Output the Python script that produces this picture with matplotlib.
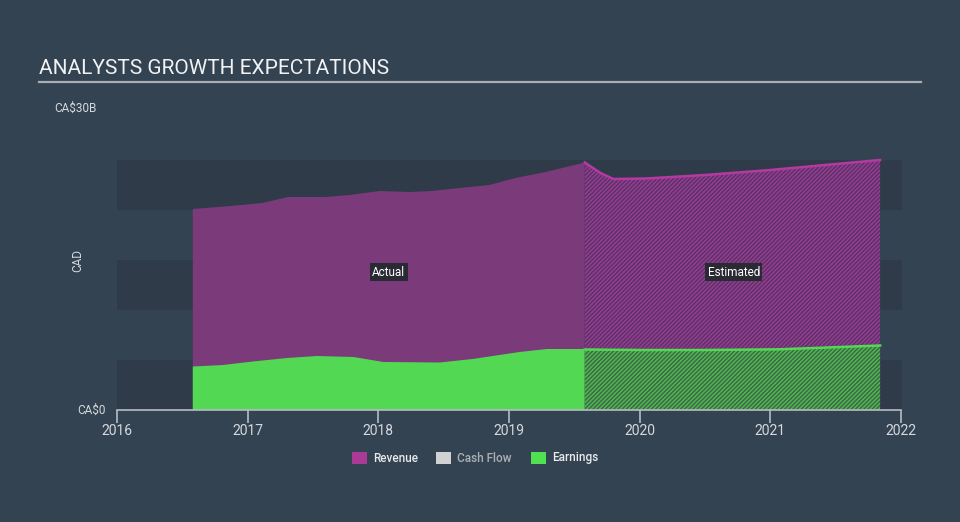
import matplotlib
matplotlib.use("Agg")
import matplotlib.pyplot as plt
from matplotlib.patches import Rectangle

plt.rcParams['font.family'] = ['Roboto', 'DejaVu Sans']
plt.rcParams['hatch.linewidth'] = 1.2

# ---- data (CA$ billions) ----
rev_actual_x = [2016.58, 2016.87, 2017.11, 2017.31, 2017.59, 2017.78, 2018.01, 2018.24,
                2018.41, 2018.62, 2018.85, 2019.05, 2019.28, 2019.58]
rev_actual_y = [20.1, 20.4, 20.7, 21.3, 21.3, 21.5, 21.9, 21.8, 21.9, 22.2, 22.5, 23.2, 23.8, 24.75]
rev_est_x = [2019.58, 2019.70, 2019.80, 2020.05, 2020.50, 2021.00, 2021.84]
rev_est_y = [24.75, 23.7, 23.1, 23.15, 23.5, 24.0, 25.0]

earn_actual_x = [2016.58, 2016.81, 2017.04, 2017.30, 2017.53, 2017.81, 2018.04, 2018.47,
                 2018.72, 2019.08, 2019.29, 2019.58]
earn_actual_y = [4.35, 4.5, 4.85, 5.2, 5.4, 5.3, 4.8, 4.75, 5.1, 5.8, 6.1, 6.1]
earn_est_x = [2019.58, 2020.0, 2020.5, 2021.07, 2021.84]
earn_est_y = [6.05, 6.0, 6.0, 6.07, 6.45]

year_ticks = [2016, 2017, 2018, 2019, 2020, 2021, 2022]
band_edges = [0, 5, 10, 15, 20, 25]
legend_labels = ["Revenue", "Cash Flow", "Earnings"]

# ---- style ----
BG = '#344351'
BAND = '#2f3b49'
REV_FILL = '#7b3a79'
REV_LINE = '#b43aa2'
REV_EST_FACE = '#553164'
REV_HATCH = '#943c8e'
EARN_FILL = '#52d853'
EARN_EST_FACE = '#3d5f4a'
EARN_HATCH = '#4db54e'
TXT = '#d5d9de'

fig = plt.figure(figsize=(9.6, 5.22), dpi=100, facecolor=BG)
W, H = 960, 522
ax = fig.add_axes([117 / W, 1 - 410 / H, (901 - 117) / W, 300 / H])
ax.set_facecolor(BG)
ax.set_xlim(2016, 2022)
ax.set_ylim(0, 30)

# alternating horizontal bands
for i in range(len(band_edges) - 1):
    c = BAND if i % 2 == 0 else BG
    ax.add_patch(Rectangle((2016, band_edges[i]), 6.01, band_edges[i + 1] - band_edges[i],
                           facecolor=c, edgecolor='none', zorder=0, clip_on=False))

# revenue
ax.fill_between(rev_actual_x, 0, rev_actual_y, facecolor=REV_FILL, edgecolor='none', zorder=2)
ax.fill_between(rev_est_x, 0, rev_est_y, facecolor=REV_EST_FACE, edgecolor=REV_HATCH,
                hatch='////////', linewidth=0, zorder=2)
ax.plot(rev_est_x, rev_est_y, color=REV_LINE, lw=1.8, zorder=3)

# earnings
ax.fill_between(earn_actual_x, 0, earn_actual_y, facecolor=EARN_FILL, edgecolor='none', zorder=4)
ax.fill_between(earn_est_x, 0, earn_est_y, facecolor=EARN_EST_FACE, edgecolor=EARN_HATCH,
                hatch='////////', linewidth=0, zorder=4)
ax.plot(earn_est_x, earn_est_y, color=EARN_FILL, lw=1.8, zorder=5)

# labels Actual / Estimated
ax.text(2018.08, 13.8, "Actual", ha='center', va='center', color='white', fontsize=8.5, zorder=6,
        bbox=dict(boxstyle='square,pad=0.2', facecolor='#2a2a35', edgecolor='none'))
ax.text(2020.72, 13.8, "Estimated", ha='center', va='center', color='white', fontsize=8.5, zorder=6,
        bbox=dict(boxstyle='square,pad=0.2', facecolor='#2a2a35', edgecolor='none'))

# axes styling
for s in ['top', 'right', 'left']:
    ax.spines[s].set_visible(False)
ax.spines['bottom'].set_color('#b5bcc4')
ax.spines['bottom'].set_linewidth(1.2)
ax.spines['bottom'].set_zorder(7)
ax.set_xticks(year_ticks)
ax.set_xticklabels([str(y) for y in year_ticks])
ax.tick_params(axis='x', colors='#b5bcc4', length=9, width=1.2, pad=1, labelcolor=TXT, labelsize=10)
ax.set_yticks([])

# y texts
fig.text(54 / W, 1 - 108 / H, "CA$30B", color=TXT, fontsize=8.5, ha='left', va='center')
fig.text(106 / W, 1 - 410 / H, "CA$0", color=TXT, fontsize=8.5, ha='right', va='center')
fig.text(78 / W, 1 - 260 / H, "CAD", color=TXT, fontsize=8.5, ha='center', va='center', rotation=90)

# title
fig.text(39 / W, 1 - 69 / H, "ANALYSTS GROWTH EXPECTATIONS", color='#f0f2f4', fontsize=15,
         ha='left', va='center')
fig.add_artist(plt.Line2D([39 / W, 921 / W], [1 - 82 / H, 1 - 82 / H], color='#a8aeb5', lw=1.6))

# legend
leg_colors = ['#a93a96', '#d2d2d2', '#52e053']
leg_text_colors = ['#e8eaec', '#a9b0b8', '#e8eaec']
sq_x = [352, 436, 531]
for lab, c, tc, x in zip(legend_labels, leg_colors, leg_text_colors, sq_x):
    fig.patches.append(Rectangle((x / W, 1 - 464 / H), 15 / W, 12 / H, facecolor=c,
                                 edgecolor='none', transform=fig.transFigure, figure=fig))
    fig.text((x + 21) / W, 1 - 458 / H, lab, color=tc, fontsize=8.5, ha='left', va='center',
             fontweight='medium')

fig.savefig('out.png', dpi=100, facecolor=BG)
